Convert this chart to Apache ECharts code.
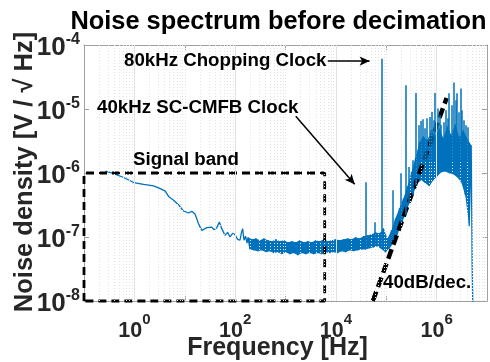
<!DOCTYPE html>
<html>
<head>
<meta charset="utf-8">
<script src="https://cdn.jsdelivr.net/npm/echarts@6/dist/echarts.min.js"></script>
<style>
html, body { margin: 0; padding: 0; background: #fff; }
#main { width: 490px; height: 362px; }
</style>
</head>
<body>
<div id="main"></div>
<script>
// ---- data ----
// smooth low-frequency part of the spectrum
const lowFreq = [0.267, 0.389, 0.614, 0.969, 1.53, 2.41, 3.27, 4.1, 4.77, 6.0,
    7.5, 9.4, 11.9, 13.8, 16.1, 18.7, 21.8, 27.4, 34.4, 38.3,
    43.3, 48.7, 54.3, 63.1, 70.8, 79.3, 88.9, 99.6, 111.5, 125,
    134, 141, 150, 161, 172];
const lowNoise = [1.07e-6, 9.8e-7, 8.5e-7, 7.1e-7, 6.65e-7, 6.3e-7, 5.7e-7, 5.2e-7, 4.3e-7, 3.75e-7,
    3.2e-7, 2.55e-7, 2.37e-7, 2.52e-7, 2.26e-7, 1.62e-7, 1.27e-7, 1.4e-7, 1.43e-7, 1.3e-7,
    1.4e-7, 1.71e-7, 1.35e-7, 1.06e-7, 1.18e-7, 1.0e-7, 1.14e-7, 1.09e-7, 9.2e-8, 8.9e-8,
    1.18e-7, 1.35e-7, 8.9e-8, 1.03e-7, 8.0e-8];

// noisy floor, 200 Hz .. 70 kHz (alternating upper / lower edge of the noise)
const floorFreq = [180, 197, 216, 237, 259, 284, 311, 340, 373, 409,
    448, 490, 537, 588, 644, 706, 773, 847, 928, 1016,
    1113, 1219, 1335, 1463, 1602, 1755, 1922, 2106, 2307, 2527,
    2768, 3032, 3321, 3638, 3985, 4365, 4781, 5237, 5737, 6284,
    6883, 7540, 8259, 9047, 9909, 10855, 11890, 13025, 14267, 15628,
    17119, 18751, 20540, 22500, 24645, 26996, 29572, 32392, 35481, 38866,
    42573, 46634, 51083, 55955, 61292, 67139];
const floorNoise = [9.9e-8, 6.4e-8, 9.2e-8, 6.2e-8, 9.5e-8, 6.0e-8, 8.9e-8, 6.2e-8, 9.5e-8, 5.8e-8,
    8.9e-8, 6.0e-8, 8.6e-8, 5.6e-8, 9.2e-8, 5.8e-8, 8.6e-8, 5.4e-8, 8.9e-8, 5.8e-8,
    8.3e-8, 5.4e-8, 8.6e-8, 5.6e-8, 8.3e-8, 5.2e-8, 8.9e-8, 5.6e-8, 8.3e-8, 5.4e-8,
    8.6e-8, 5.6e-8, 8.3e-8, 5.4e-8, 8.9e-8, 5.6e-8, 8.6e-8, 5.4e-8, 9.2e-8, 5.8e-8,
    8.6e-8, 5.6e-8, 8.9e-8, 5.8e-8, 9.2e-8, 5.6e-8, 8.9e-8, 6.0e-8, 9.2e-8, 5.8e-8,
    9.5e-8, 6.2e-8, 9.2e-8, 6.0e-8, 9.9e-8, 6.2e-8, 9.5e-8, 6.4e-8, 1.03e-7, 6.4e-8,
    1.06e-7, 6.65e-8, 1.1e-7, 6.9e-8, 1.18e-7, 7.2e-8];

// shaped noise hump above the chopping frequency (same alternation)
const humpFreq = [73550, 80540, 88220, 96650, 105850, 115940, 127000, 139100, 152400, 166900,
    182900, 200300, 219400, 240300, 263300, 288400, 315900, 346000, 379000, 415200,
    454800, 498200, 545700, 597700, 654700, 717200, 785600, 860500, 942600, 1032000,
    1131000, 1239000, 1357000, 1486000, 1628000, 1784000, 1954000, 2140000, 2344000, 2568000,
    2813000, 3081000, 3375000, 3696000, 4049000, 4436000, 4858000, 5080000, 5321000];
const humpNoise = [1.14e-7, 6.43e-8, 1.37e-7, 5.77e-8, 9.5e-8, 6.66e-8, 1.27e-7, 7.97e-8, 1.96e-7, 1.1e-7,
    2.81e-7, 1.58e-7, 4.03e-7, 2.26e-7, 6.19e-7, 3.36e-7, 1.03e-6, 4.82e-7, 1.7e-6, 6.9e-7,
    3.02e-6, 7.69e-7, 3.74e-6, 6.9e-7, 3.24e-6, 6.19e-7, 4.65e-6, 7.69e-7, 3.88e-6, 8.88e-7,
    4.99e-6, 1.03e-6, 3.48e-6, 1.06e-6, 5.37e-6, 9.89e-7, 3.88e-6, 9.55e-7, 5.77e-6, 8.57e-7,
    3.61e-6, 7.16e-7, 4.65e-6, 4.49e-7, 3.48e-6, 1.47e-7, 2.71e-6, 3.61e-8, 3.5e-9];

// clock tones and their harmonics (spikes)
const toneFreq = [40000, 58600, 80000, 133000, 198000, 240000, 279000, 335000, 392000, 435000,
    477000, 529000, 571000, 626000, 717000, 797000, 860000, 930000, 1050000, 1130000,
    1220000, 1356000, 1486000, 1630000, 1780000, 1954000, 2170000, 2344000, 2490000, 2690000,
    3040000, 3220000, 3530000, 3870000, 4240000];
const toneBase = [6.5e-8, 7.5e-8, 7e-8, 9e-8, 1.7e-7, 2.2e-7, 3.4e-7, 4.5e-7, 6.4e-7, 1.5e-6,
    1.5e-6, 1.5e-6, 1.5e-6, 1.5e-6, 1.5e-6, 1.5e-6, 1.5e-6, 1.5e-6, 1.5e-6, 1.5e-6,
    1.5e-6, 1.5e-6, 1.5e-6, 1.5e-6, 1.5e-6, 1.5e-6, 1.5e-6, 1.5e-6, 1.5e-6, 1.5e-6,
    1.5e-6, 1.5e-6, 1.5e-6, 1.5e-6, 1.5e-6];
const toneTop = [7.2e-7, 1.7e-7, 6.1e-5, 5.4e-7, 9.9e-7, 2.34e-5, 1.24e-6, 1.58e-6, 1.78e-5, 5.56e-6,
    6.5e-6, 6.9e-6, 4.99e-6, 7.16e-6, 7.5e-6, 9.0e-6, 6.66e-6, 1.78e-5, 1.02e-5, 7.97e-6,
    5.6e-6, 6.19e-6, 9.55e-6, 7.16e-6, 1.76e-5, 1.14e-5, 2.6e-5, 1.37e-5, 1.76e-5, 8.87e-6,
    2.1e-5, 9.55e-6, 6.7e-6, 5.56e-6, 5.2e-6];

// 40 dB/dec guide line, signal band box, arrows
const slopeFreq = [54200, 1580000];
const slopeNoise = [1e-8, 1.48e-5];
const bandFreq = [0.1, 0.1, 6000, 6000, 0.1];
const bandNoise = [1e-8, 1e-6, 1e-6, 1e-8, 1e-8];
const arrowChop = [[6900, 5.6e-5], [46700, 5.6e-5]];
const arrowCmfb = [[1600, 7.7e-6], [23600, 6.65e-7]];

const xMajor = [1, 100, 1e4, 1e6];
const yMajor = [1e-7, 1e-6, 1e-5];
const minorMult = [2, 3, 4, 5, 6, 7, 8, 9];

// ---- build ----
const font = '"Liberation Sans", Arial, sans-serif';
const blue = '#0072BD';

let mainData = [];
[[lowFreq, lowNoise], [floorFreq, floorNoise], [humpFreq, humpNoise]].forEach(function (part) {
    part[0].forEach(function (f, i) {
        mainData.push([f, part[1][i]]);
    });
});

// upper / lower edge of the noisy band (floor + hump, without the final drop)
let noisyFreq = floorFreq.concat(humpFreq.slice(0, 47));
let noisyVal = floorNoise.concat(humpNoise.slice(0, 47));
let bandTop = [];
let bandBottom = [];
noisyFreq.forEach(function (f, i) {
    (i % 2 === 0 ? bandTop : bandBottom).push([f, noisyVal[i]]);
});

let toneLines = toneFreq.map(function (f, i) {
    return [{ coord: [f, toneBase[i]] }, { coord: [f, toneTop[i]] }];
});

// minor grid positions
let xMinor = [10, 1000, 1e5];
for (let e = -1; e < 7; e++) {
    minorMult.forEach(function (m) { xMinor.push(m * Math.pow(10, e)); });
}
let yMinor = [];
for (let e = -8; e < -4; e++) {
    minorMult.forEach(function (m) { yMinor.push(m * Math.pow(10, e)); });
}

let majorLines = xMajor.map(function (v) { return { xAxis: v }; })
    .concat(yMajor.map(function (v) { return { yAxis: v }; }));
let minorLines = xMinor.map(function (v) { return { xAxis: v }; })
    .concat(yMinor.map(function (v) { return { yAxis: v }; }));

function expOf(v) {
    return Math.round(Math.log10(v));
}

let axisGray = '#a0a0a0';

let chart = echarts.init(document.getElementById('main'));
let option = {
    animation: false,
    backgroundColor: '#fff',
    grid: { left: 84, right: 3, top: 45, bottom: 61 },
    xAxis: [{
        type: 'log',
        logBase: 10,
        min: 0.1,
        max: 1e7,
        axisLine: { lineStyle: { color: axisGray, width: 1 } },
        axisTick: { inside: true, length: 5, lineStyle: { color: axisGray } },
        splitLine: { show: false },
        axisLabel: {
            margin: 11,
            color: '#262626',
            formatter: function (v) {
                let e = expOf(v);
                if (e % 2 !== 0) return '';
                return '{a|10}{b|' + e + '}';
            },
            rich: {
                a: { fontSize: 21.5, fontWeight: 'bold', fontFamily: font, color: '#262626', lineHeight: 39 },
                b: { fontSize: 15, fontWeight: 'bold', fontFamily: font, color: '#262626', verticalAlign: 'top', lineHeight: 15 }
            }
        }
    }, {
        type: 'log',
        logBase: 10,
        min: 0.1,
        max: 1e7,
        position: 'top',
        axisLine: { lineStyle: { color: axisGray, width: 1 } },
        axisTick: { inside: true, length: 5, lineStyle: { color: axisGray } },
        axisLabel: { show: false },
        splitLine: { show: false }
    }],
    yAxis: [{
        type: 'log',
        logBase: 10,
        min: 1e-8,
        max: 1e-4,
        axisLine: { show: true, lineStyle: { color: axisGray, width: 1 } },
        axisTick: { show: true, inside: true, length: 5, lineStyle: { color: axisGray } },
        splitLine: { show: false },
        axisLabel: {
            margin: 4,
            padding: [6, 0, 0, 0],
            formatter: function (v) {
                return '{a|10}{b|' + expOf(v) + '}';
            },
            rich: {
                a: { fontSize: 26, fontWeight: 'bold', fontFamily: font, color: '#262626', lineHeight: 33 },
                b: { fontSize: 16, fontWeight: 'bold', fontFamily: font, color: '#262626', verticalAlign: 'top', lineHeight: 16 }
            }
        }
    }, {
        type: 'log',
        logBase: 10,
        min: 1e-8,
        max: 1e-4,
        position: 'right',
        axisLine: { show: true, lineStyle: { color: axisGray, width: 1 } },
        axisTick: { show: true, inside: true, length: 5, lineStyle: { color: axisGray } },
        axisLabel: { show: false },
        splitLine: { show: false }
    }],
    series: [
        {
            name: 'gridMinor',
            type: 'line',
            data: [],
            z: 1,
            silent: true,
            markLine: {
                silent: true,
                symbol: 'none',
                label: { show: false },
                lineStyle: { color: '#e4e4e4', width: 1, type: [1, 2] },
                data: minorLines
            }
        },
        {
            name: 'gridMajor',
            type: 'line',
            data: [],
            z: 1,
            silent: true,
            markLine: {
                silent: true,
                symbol: 'none',
                label: { show: false },
                lineStyle: { color: '#e2e2e2', width: 1, type: 'solid' },
                data: majorLines
            }
        },
        {
            name: 'noiseBand',
            type: 'custom',
            z: 2,
            silent: true,
            data: [[1000, 1e-7]],
            renderItem: function (params, api) {
                let pts = bandTop.map(function (p) { return api.coord(p); })
                    .concat(bandBottom.slice().reverse().map(function (p) { return api.coord(p); }));
                return {
                    type: 'polygon',
                    shape: { points: pts },
                    style: { fill: blue, stroke: null }
                };
            }
        },
        {
            name: 'spectrum',
            type: 'line',
            data: mainData,
            z: 2,
            symbol: 'none',
            lineStyle: { color: blue, width: 1.3 },
            clip: true
        },
        {
            name: 'tones',
            type: 'line',
            data: [],
            z: 2,
            markLine: {
                silent: true,
                symbol: 'none',
                label: { show: false },
                lineStyle: { color: blue, width: 1.5, type: 'solid' },
                data: toneLines
            }
        },
        {
            name: 'signalBand',
            type: 'line',
            data: bandFreq.map(function (f, i) { return [f, bandNoise[i]]; }),
            z: 4,
            clip: false,
            symbol: 'none',
            lineStyle: { color: '#000', width: 2.8, type: [8, 5] }
        },
        {
            name: 'slope',
            type: 'line',
            data: slopeFreq.map(function (f, i) { return [f, slopeNoise[i]]; }),
            z: 4,
            symbol: 'none',
            lineStyle: { color: '#000', width: 4.5, type: [10, 5] },
            markLine: {
                silent: true,
                symbol: ['none', 'arrow'],
                symbolSize: [7, 10],
                label: { show: false },
                lineStyle: { color: '#000', width: 1.5, type: 'solid' },
                data: [
                    [{ coord: arrowChop[0] }, { coord: arrowChop[1] }],
                    [{ coord: arrowCmfb[0] }, { coord: arrowCmfb[1] }]
                ]
            }
        }
    ],
    graphic: [
        {
            type: 'text', x: 278.5, y: 22, z: 10,
            style: { text: 'Noise spectrum before decimation', fill: '#000', font: 'bold 25.4px ' + font, align: 'center', verticalAlign: 'middle' }
        },
        {
            type: 'text', x: 277.5, y: 348, z: 10,
            style: { text: 'Frequency [Hz]', fill: '#262626', font: 'bold 25px ' + font, align: 'center', verticalAlign: 'middle' }
        },
        {
            type: 'text', x: 24.5, y: 172, rotation: Math.PI / 2, z: 10,
            style: { text: 'Noise density [V / \u221A Hz]', fill: '#262626', font: 'bold 25.5px ' + font, align: 'center', verticalAlign: 'middle' }
        },
        {
            type: 'text', x: 124, y: 60.5, z: 10,
            style: { text: '80kHz Chopping Clock', fill: '#000', font: 'bold 18.7px ' + font, align: 'left', verticalAlign: 'middle' }
        },
        {
            type: 'text', x: 97, y: 107.5, z: 10,
            style: { text: '40kHz SC-CMFB Clock', fill: '#000', font: 'bold 18.7px ' + font, align: 'left', verticalAlign: 'middle' }
        },
        {
            type: 'text', x: 133, y: 160, z: 10,
            style: { text: 'Signal band', fill: '#000', font: 'bold 18.7px ' + font, align: 'left', verticalAlign: 'middle' }
        },
        {
            type: 'text', x: 383, y: 283.3, z: 10,
            style: { text: '40dB/dec.', fill: '#000', font: 'bold 18.7px ' + font, align: 'left', verticalAlign: 'middle' }
        }
    ]
};
chart.setOption(option);
</script>
</body>
</html>
